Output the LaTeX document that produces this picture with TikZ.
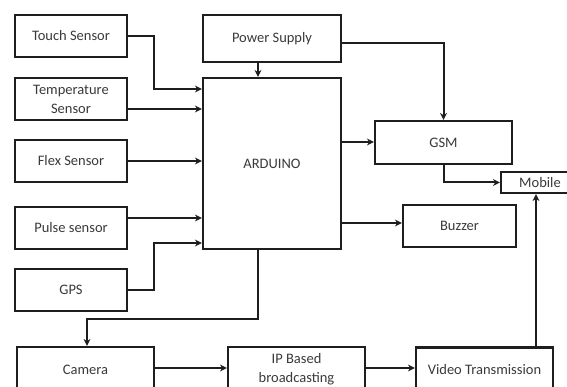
\documentclass[tikz,border=0pt]{standalone}
\usepackage{fontspec}
\setmainfont{Carlito}
\usetikzlibrary{arrows.meta,calc}
\definecolor{linec}{HTML}{1E1E1E}
\definecolor{textc}{HTML}{3A3A3A}
\tikzset{
  box/.style={draw=linec, line width=2.2pt, fill=white, inner sep=0pt, align=center,
    text=textc, font=\fontsize{14.5}{19}\selectfont},
  arr/.style={draw=linec, line width=2pt, -{Stealth[length=7pt,width=7pt]}},
}
\begin{document}
\begin{tikzpicture}[x=1pt,y=-1pt]
\useasboundingbox (0,0) rectangle (567,387);
\clip (0,0) rectangle (567,387);
\fill[white] (0,0) rectangle (567,387);
% left sensors
\node[box, minimum width=112pt, minimum height=42pt] (touch) at (71,36) {Touch Sensor};
\node[box, minimum width=112pt, minimum height=42pt] (temp) at (71,99) {Temperature\\Sensor};
\node[box, minimum width=112pt, minimum height=42pt] (flex) at (71,161) {Flex Sensor};
\node[box, minimum width=112pt, minimum height=42pt] (pulse) at (71,228) {Pulse sensor};
\node[box, minimum width=112pt, minimum height=42pt] (gps) at (71,290) {GPS};
% centre
\node[box, minimum width=138pt, minimum height=47pt] (power) at (272,38.5) {Power Supply};
\node[box, minimum width=138pt, minimum height=171pt] (arduino) at (272,163.5) {ARDUINO};
% right
\node[box, minimum width=137pt, minimum height=43pt] (gsm) at (443.5,142.5) {GSM};
\node[box, minimum width=113pt, minimum height=42pt] (buzzer) at (459.5,226) {Buzzer};
\node[box, minimum width=78pt, minimum height=21pt] (mobile) at (540,182.5) {Mobile};
% bottom
\node[box, minimum width=137pt, minimum height=45pt] (camera) at (85.5,369.5) {Camera};
\node[box, minimum width=137pt, minimum height=45pt] (ip) at (296.5,369.5) {IP Based\\broadcasting};
\node[box, minimum width=137pt, minimum height=45pt] (video) at (484.5,370) {Video Transmission};
% connectors
\draw[arr] (touch.east) -- ++(26,0) |- (arduino.west |- 0,89);
\draw[arr] (temp.east |- 0,109) -- (arduino.west |- 0,109);
\draw[arr] (flex.east) -- (flex.east -| arduino.west);
\draw[arr] (pulse.east |- 0,218) -- (arduino.west |- 0,218);
\draw[arr] (gps.east) -- ++(26,0) |- (arduino.west |- 0,243);
\draw[arr] (power.south -| 258,0) -- (arduino.north -| 258,0);
\draw[arr] (power.east |- 0,43) -| (gsm.north);
\draw[arr] (arduino.east |- 0,142) -- (gsm.west |- 0,142);
\draw[arr] (gsm.south) |- (mobile.west);
\draw[arr] (arduino.east |- 0,223) -- (buzzer.west |- 0,223);
\draw[arr] (arduino.south -| 258,0) -- (258,319) -| (camera.north -| 87,0);
\draw[arr] (camera.east |- 0,368) -- (ip.west |- 0,368);
\draw[arr] (ip.east |- 0,368) -- (video.west |- 0,368);
\draw[arr] (video.north -| 536,0) -- (mobile.south -| 536,0);
\end{tikzpicture}
\end{document}
